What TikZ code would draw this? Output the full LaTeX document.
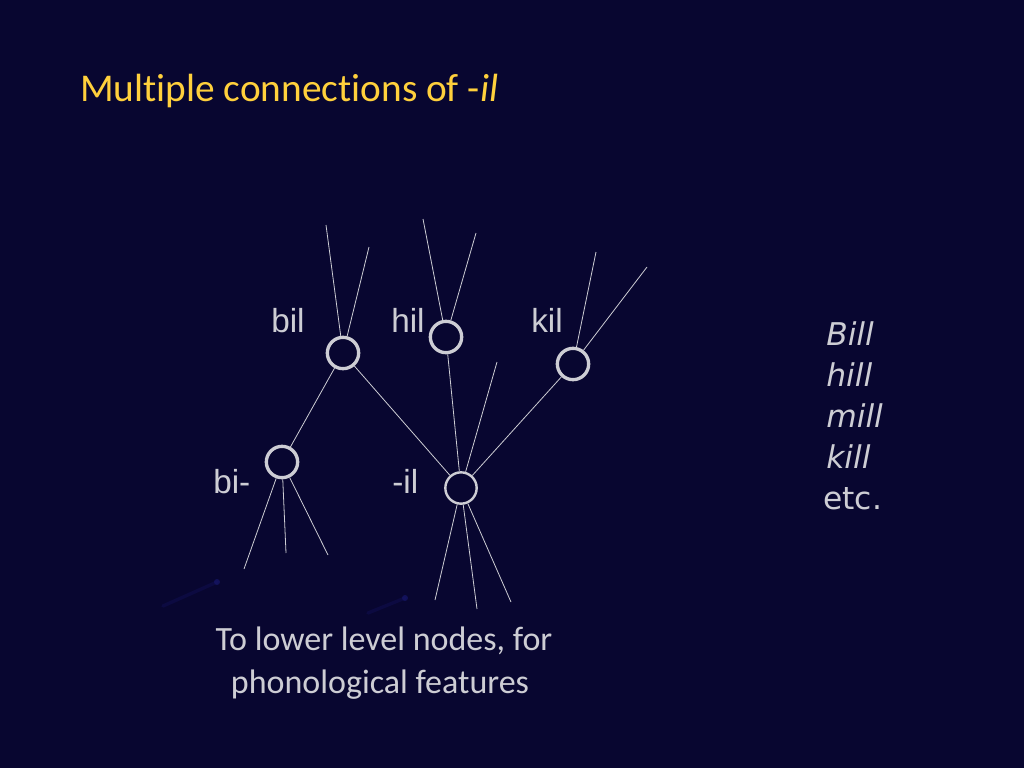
\documentclass[tikz,border=0pt]{standalone}
\usepackage{fontspec}
\setmainfont{Carlito}[Ligatures=NoCommon]
\newfontfamily\lblfont{Liberation Sans}
\newfontfamily\listfont{DejaVu Sans}
\usetikzlibrary{positioning}
\definecolor{slidebg}{RGB}{8,6,48}
\definecolor{titlegold}{RGB}{255,208,60}
\definecolor{lightgrey}{RGB}{205,205,212}
\definecolor{faintblue}{RGB}{22,22,105}
\tikzset{ND/.style={circle,draw=lightgrey,line width=2.5pt,minimum size=23.5pt,inner sep=0pt},
 lnk/.style={lightgrey,line width=0.6pt},
 lbl/.style={text=lightgrey,font=\lblfont\fontsize{25}{30}\selectfont,inner sep=0pt,anchor=base west},
 wrd/.style={text=lightgrey,font=\listfont\fontsize{23.5}{28}\selectfont,inner sep=0pt,anchor=base west},
 low/.style={text=lightgrey,font=\fontsize{25.5}{30}\selectfont,inner sep=0pt,anchor=base}}

\begin{document}
\begin{tikzpicture}[x=0.75pt,y=-0.75pt]

\fill[slidebg] (0,0) rectangle (1024,768);
\useasboundingbox (0,0) rectangle (1024,768);

\node[anchor=base west,text=titlegold,font=\fontsize{29.5}{35}\selectfont,inner sep=0pt] (title) at (80,101) {Multiple connections of -\textit{il}};

% units
\node[ND] (bil) at (343,353) {};
\node[ND] (hil) at (446,337) {};
\node[ND] (kil) at (573,364) {};
\node[ND] (bi) at (282,462) {};
\node[ND,line width=1.8pt] (il) at (461,488) {};

\node[lbl] (tbil) at (271,332) {bil};
\node[lbl] (thil) at (391,332) {hil};
\node[lbl] (tkil) at (531,332) {kil};
\node[lbl] (tbi) at (213,493) {bi-};
\node[lbl] (til) at (392,493) {-il};

% free ends
\coordinate (b1) at (326,225);
\coordinate (b2) at (369,247);
\coordinate (h1) at (423,219);
\coordinate (h2) at (476,233);
\coordinate (k1) at (596,252);
\coordinate (k2) at (647,267);
\coordinate (i0) at (497,362);
\coordinate (d1) at (244,569);
\coordinate (d2) at (286,553);
\coordinate (d3) at (328,555);
\coordinate (e1) at (435,600);
\coordinate (e2) at (477,609);
\coordinate (e3) at (511,602);

\foreach \a/\b in {bil/b1,bil/b2,hil/h1,hil/h2,kil/k1,kil/k2,il/i0,bi/d1,bi/d2,bi/d3,il/e1,il/e2,il/e3}
 \draw[lnk] (\a) -- (\b);
\foreach \a/\b in {bil/bi,bil/il,hil/il,kil/il}
 \draw[lnk] (\a) -- (\b);

% faint marks
\coordinate (f1) at (163,606);
\coordinate (f2) at (217,582);
\coordinate (f3) at (368,613);
\coordinate (f4) at (405,598);
\draw[faintblue,line width=2.5pt,line cap=round,opacity=0.3] (f1) -- (f2);
\draw[faintblue,line width=2.5pt,line cap=round,opacity=0.3] (f3) -- (f4);
\fill[faintblue,opacity=0.7] (f2) circle (3);
\fill[faintblue,opacity=0.7] (f4) circle (3);

\node[low] (low1) at (384,650) {To lower level nodes, for};
\node[low] (low2) at (380,693) {phonological features};

\foreach \w [count=\k] in {Bill,hill,mill,kill}
 \node[wrd,font=\listfont\itshape\fontsize{23.5}{28}\selectfont] (w\k) at (826,345+41*\k-41) {\w};
\node[wrd] (w5) at (823,509) {etc.};

\end{tikzpicture}
\end{document}
